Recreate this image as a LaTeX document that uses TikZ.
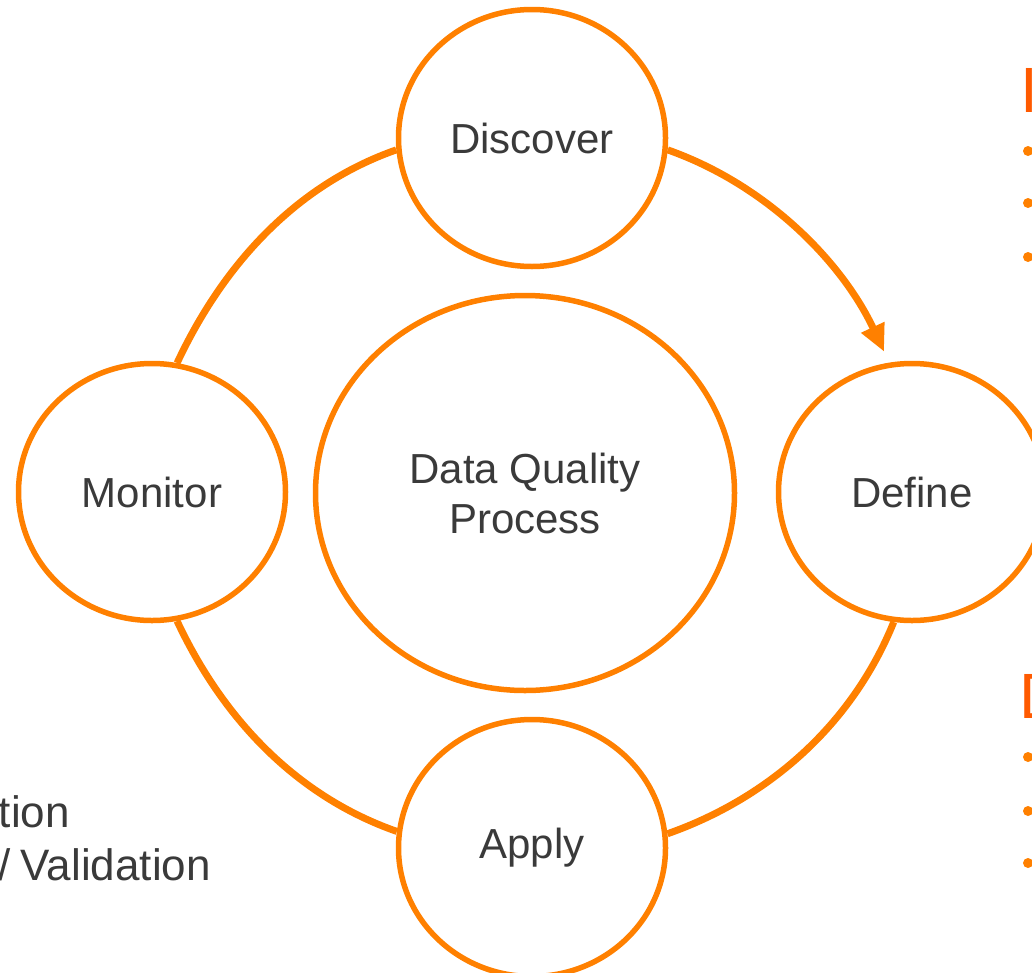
\documentclass[tikz,border=0pt]{standalone}
\usepackage{fontspec}
\setmainfont{Liberation Sans}
\usetikzlibrary{shapes.geometric,arrows.meta}
\definecolor{ring}{HTML}{FF8000}
\definecolor{txt}{HTML}{3A3A3A}
\definecolor{ttl}{HTML}{FF5A00}
\begin{document}
\begin{tikzpicture}[x=1pt,y=1pt,
  stage/.style={ellipse, draw=ring, line width=5.5pt, minimum width=267pt, minimum height=257pt, inner sep=0pt, text=txt, font=\fontsize{42}{50}\selectfont},
  hub/.style={ellipse, draw=ring, line width=5.5pt, minimum width=419pt, minimum height=395pt, inner sep=0pt, text=txt, align=center, font=\fontsize{42}{50}\selectfont},
  ringline/.style={draw=ring, line width=7pt, looseness=0.9},
  bulletdot/.style={circle, fill=ring, minimum size=10pt, inner sep=0pt},
  titletext/.style={text=ttl, font=\fontsize{64}{70}\selectfont, inner sep=0pt},
  bodytext/.style={text=txt, font=\fontsize{44}{52}\selectfont, inner sep=0pt}]
\useasboundingbox (0,0) rectangle (1032,-972);
\clip (0,0) rectangle (1032,-972);

\node[stage] (disc) at (532,-138) {Discover};
\node[stage] (mon) at (152,-492) {Monitor};
\node[stage] (def) at (912,-492) {Define};
\node[stage] (app) at (532,-848) {Apply};
\node[hub] (hub) at (525,-493) {Data Quality\\Process};

\draw[ringline, -{Triangle[length=27pt,width=24pt]}, shorten >=12pt] (disc.-5.9) to[out=-19.5,in=115] (def.100);
\draw[ringline] (def.262.4) to[out=248,in=19.4] (app.6.3);
\draw[ringline] (app.173.7) to[out=160.7,in=-64.9] (mon.-79);
\draw[ringline] (disc.185.9) to[out=199.3,in=64.9] (mon.79);

\node[titletext, anchor=base west] (t1) at (1020,-112) {I};
\node[bulletdot] (b1) at (1028,-151) {};
\node[bulletdot] (b2) at (1028,-203) {};
\node[bulletdot] (b3) at (1028,-257) {};

\node[titletext, anchor=base west] (t2) at (1019,-718) {D};
\node[bulletdot] (b4) at (1028,-757) {};
\node[bulletdot] (b5) at (1028,-811) {};
\node[bulletdot] (b6) at (1028,-863) {};

\node[bodytext, anchor=base east] (l1) at (70,-827) {tion};
\node[bodytext, anchor=base east] (l2) at (211,-880) {/\hspace{-2pt} Validation};
\end{tikzpicture}
\end{document}
